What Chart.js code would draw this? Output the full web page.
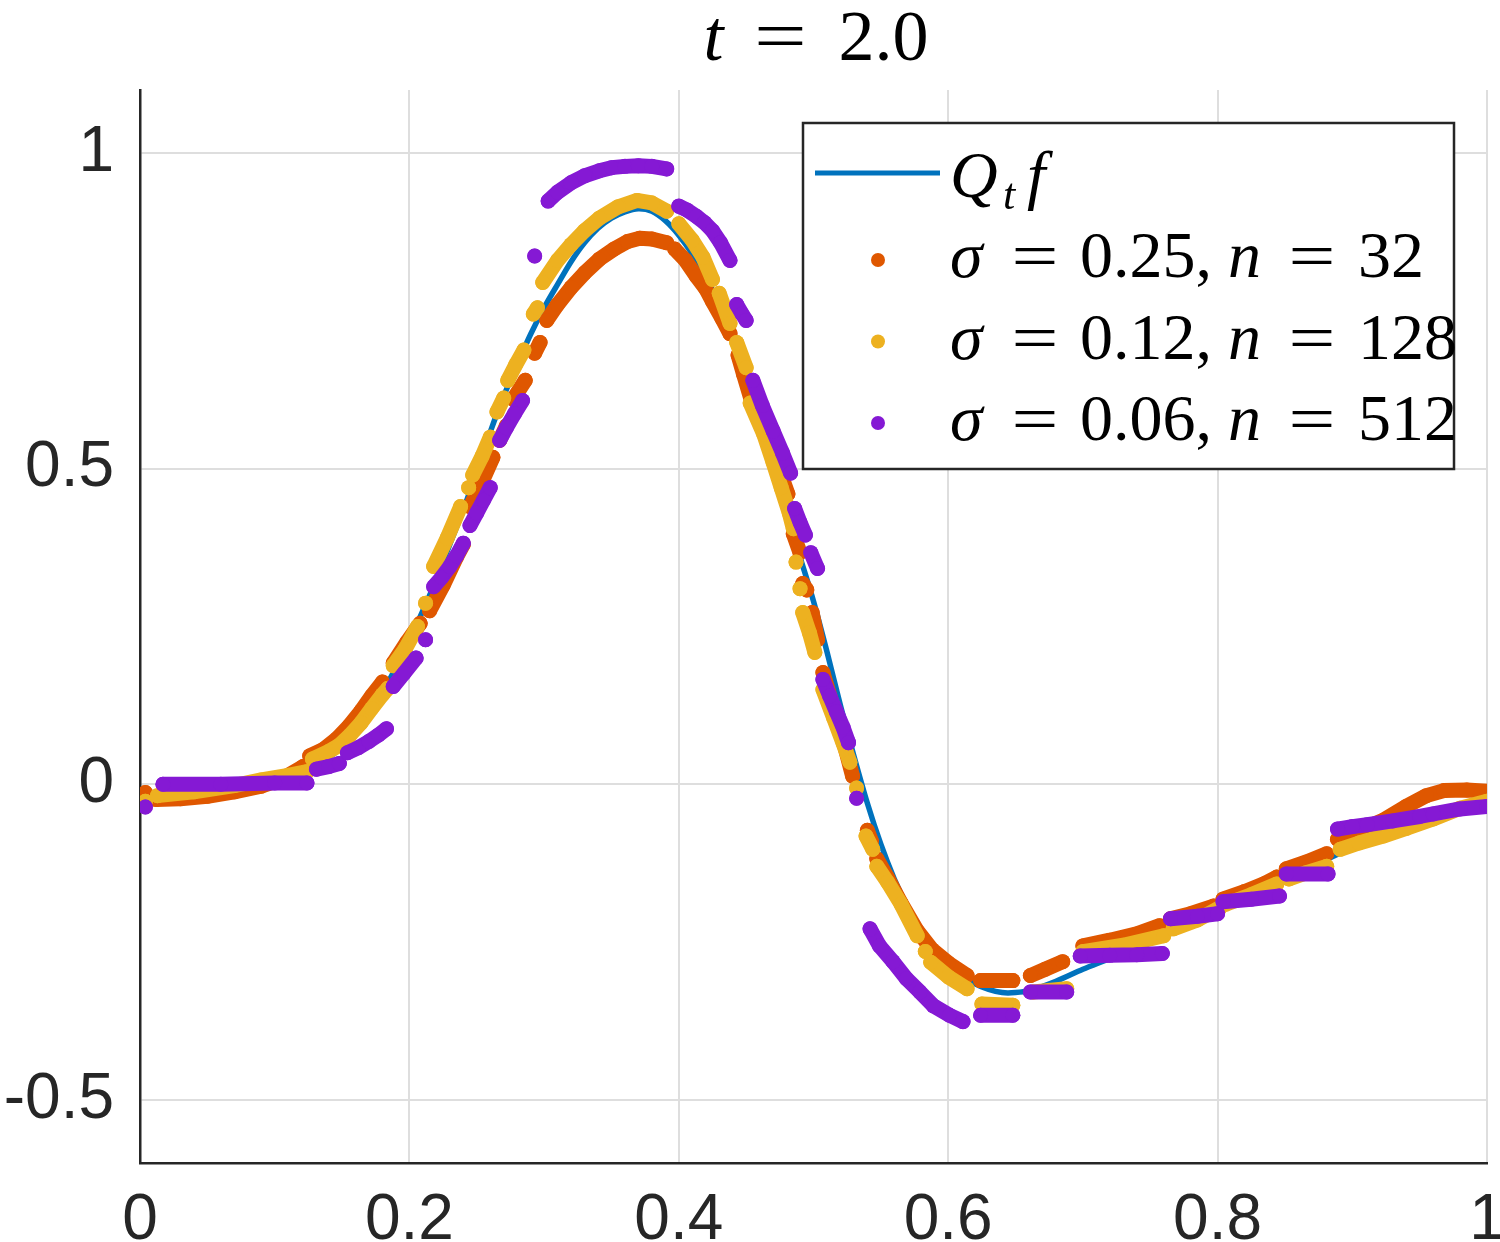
<!DOCTYPE html>
<html>
<head>
<meta charset="utf-8">
<script src="https://cdn.jsdelivr.net/npm/chart.js@4.4.1/dist/chart.umd.min.js"></script>
<style>
  html, body { margin: 0; padding: 0; background: #fff; }
</style>
</head>
<body>
<canvas id="chart" width="1500" height="1242"></canvas>
<script>
'use strict'

let xTicks = [0, 0.2, 0.4, 0.6, 0.8, 1],
    xTickLabels = ['0', '0.2', '0.4', '0.6', '0.8', '1'],
    yTicks = [-0.5, 0, 0.5, 1],
    yTickLabels = ['-0.5', '0', '0.5', '1']

// Q_t f, the smooth curve
let qtfX = [0, 0.02, 0.04, 0.06, 0.08, 0.1, 0.12, 0.14, 0.15, 0.16, 0.17, 0.18, 0.19, 0.2, 0.21, 0.22, 0.23, 0.24,
    0.25, 0.26, 0.27, 0.28, 0.29, 0.3, 0.31, 0.32, 0.33, 0.34, 0.35, 0.36, 0.37, 0.38, 0.39, 0.4, 0.41, 0.42, 0.43,
    0.44, 0.45, 0.46, 0.47, 0.48, 0.49, 0.5, 0.51, 0.52, 0.53, 0.54, 0.55, 0.56, 0.57, 0.58, 0.59, 0.6, 0.61, 0.62,
    0.63, 0.64, 0.65, 0.66, 0.68, 0.7, 0.72, 0.74, 0.76, 0.78, 0.8, 0.82, 0.84, 0.86, 0.88, 0.9, 0.92, 0.94, 0.96,
    0.98, 1]
let qtfY = [-0.02, -0.019, -0.016, -0.012, -0.006, 0.003, 0.018, 0.042, 0.06, 0.085, 0.112, 0.145, 0.185, 0.228,
    0.275, 0.325, 0.38, 0.435, 0.495, 0.558, 0.615, 0.665, 0.713, 0.755, 0.792, 0.828, 0.858, 0.881, 0.897, 0.907,
    0.912, 0.908, 0.893, 0.87, 0.84, 0.803, 0.762, 0.715, 0.655, 0.585, 0.505, 0.43, 0.36, 0.29, 0.21, 0.125, 0.045,
    -0.03, -0.095, -0.15, -0.195, -0.232, -0.26, -0.283, -0.302, -0.316, -0.325, -0.33, -0.33, -0.327, -0.312,
    -0.293, -0.276, -0.258, -0.24, -0.221, -0.202, -0.18, -0.16, -0.139, -0.12, -0.1, -0.085, -0.068, -0.054,
    -0.043, -0.036]

// sigma = 0.25, n = 32  (null = break between runs of dots)
let s25X = [0.004, null,
    0.012, 0.03, 0.05, 0.07, 0.09, 0.105, 0.121, null,
    0.126, 0.136, 0.146, 0.155, 0.164, 0.172, 0.18, null,
    0.188, 0.198, 0.208, null,
    0.215, 0.225, 0.235, 0.24, null,
    0.245, 0.252, 0.262, null,
    0.267, 0.272, null,
    0.277, 0.286, null,
    0.293, 0.297, null,
    0.302, 0.31, 0.32, 0.33, 0.341, 0.352, 0.362, 0.371, 0.38, 0.391, null,
    0.397, 0.405, 0.413, 0.42, 0.425, 0.432, 0.438, null,
    0.444, 0.448, 0.455, 0.463, 0.47, 0.476, 0.481, null,
    0.485, 0.49, null,
    0.492, 0.495, null,
    0.499, 0.503, null,
    0.507, 0.515, 0.522, 0.529, null,
    0.54, 0.543, null,
    0.547, 0.555, 0.565, 0.577, 0.588, 0.6, 0.614, null,
    0.624, 0.648, null,
    0.661, 0.672, 0.685, null,
    0.7, 0.72, 0.74, 0.757, null,
    0.765, 0.78, 0.797, null,
    0.804, 0.82, 0.835, 0.844, null,
    0.851, 0.866, 0.881, null,
    0.889, 0.905, 0.923, 0.94, 0.955, 0.968, 0.985, 1]
let s25Y = [-0.013, null,
    -0.024, -0.023, -0.019, -0.012, -0.003, 0.008, 0.028, null,
    0.045, 0.055, 0.072, 0.092, 0.116, 0.14, 0.162, null,
    0.192, 0.225, 0.255, null,
    0.275, 0.315, 0.36, 0.38, null,
    0.44, 0.47, 0.518, null,
    0.545, 0.568, null,
    0.61, 0.64, null,
    0.683, 0.7, null,
    0.735, 0.76, 0.787, 0.81, 0.832, 0.848, 0.86, 0.865, 0.864, 0.858, null,
    0.848, 0.83, 0.805, 0.785, 0.765, 0.738, 0.714, null,
    0.68, 0.65, 0.6, 0.56, 0.52, 0.49, 0.46, null,
    0.397, 0.367, null,
    0.318, 0.308, null,
    0.272, 0.229, null,
    0.177, 0.12, 0.07, 0.013, null,
    -0.073, -0.09, null,
    -0.118, -0.148, -0.188, -0.232, -0.262, -0.283, -0.303, null,
    -0.311, -0.311, null,
    -0.303, -0.293, -0.281, null,
    -0.256, -0.247, -0.237, -0.224, null,
    -0.213, -0.205, -0.193, null,
    -0.182, -0.17, -0.157, -0.147, null,
    -0.134, -0.123, -0.11, null,
    -0.087, -0.073, -0.057, -0.035, -0.018, -0.01, -0.009, -0.011]

// sigma = 0.12, n = 128
let s12X = [0.004, null,
    0.013, 0.04, 0.07, 0.09, 0.11, 0.124, null,
    0.128, 0.14, 0.148, 0.156, 0.164, 0.172, 0.18, 0.184, null,
    0.188, 0.197, 0.206, null,
    0.212, null,
    0.218, 0.228, 0.238, null,
    0.244, null,
    0.247, 0.254, 0.26, null,
    0.265, 0.27, null,
    0.273, 0.279, 0.285, null,
    0.292, 0.295, null,
    0.299, 0.31, 0.32, 0.33, 0.341, 0.355, 0.369, 0.38, 0.391, null,
    0.4, 0.41, 0.418, 0.425, null,
    0.43, 0.438, null,
    0.443, 0.45, null,
    0.453, 0.463, 0.47, 0.476, 0.482, 0.485, null,
    0.487, null,
    0.49, null,
    0.492, 0.497, 0.501, null,
    0.507, 0.515, 0.522, 0.527, null,
    0.532, null,
    0.539, 0.544, null,
    0.547, 0.555, 0.565, 0.577, null,
    0.583, null,
    0.587, 0.6, 0.614, null,
    0.625, 0.648, null,
    0.663, 0.688, null,
    0.7, 0.73, 0.76, null,
    0.767, 0.785, 0.802, null,
    0.806, 0.825, 0.844, null,
    0.853, 0.866, 0.881, null,
    0.891, 0.905, 0.923, 0.94, 0.96, 0.98, 1]
let s12Y = [-0.027, null,
    -0.018, -0.012, -0.002, 0.007, 0.014, 0.02, null,
    0.04, 0.052, 0.062, 0.078, 0.097, 0.12, 0.142, 0.152, null,
    0.188, 0.215, 0.25, null,
    0.287, null,
    0.345, 0.39, 0.44, null,
    0.47, null,
    0.49, 0.52, 0.55, null,
    0.59, 0.612, null,
    0.64, 0.665, 0.688, null,
    0.745, 0.755, null,
    0.795, 0.83, 0.855, 0.877, 0.897, 0.915, 0.925, 0.921, 0.908, null,
    0.888, 0.862, 0.835, 0.8, null,
    0.778, 0.73, null,
    0.7, 0.66, null,
    0.604, 0.555, 0.51, 0.47, 0.43, 0.405, null,
    0.352, null,
    0.31, null,
    0.272, 0.24, 0.209, null,
    0.15, 0.105, 0.065, 0.035, null,
    -0.006, null,
    -0.082, -0.103, null,
    -0.13, -0.155, -0.19, -0.24, null,
    -0.265, null,
    -0.282, -0.305, -0.324, null,
    -0.348, -0.35, null,
    -0.329, -0.324, null,
    -0.265, -0.255, -0.24, null,
    -0.229, -0.215, -0.195, null,
    -0.19, -0.175, -0.158, null,
    -0.15, -0.14, -0.13, null,
    -0.103, -0.093, -0.082, -0.07, -0.055, -0.038, -0.027]

// sigma = 0.06, n = 512
let s06X = [0.004, null,
    0.017, 0.06, 0.1, 0.124, null,
    0.131, 0.14, 0.148, null,
    0.154, 0.162, 0.17, 0.177, 0.183, null,
    0.188, 0.196, 0.205, null,
    0.212, null,
    0.218, 0.224, 0.23, 0.235, 0.24, null,
    0.245, 0.25, 0.255, 0.26, null,
    0.267, 0.272, 0.278, 0.284, null,
    0.293, null,
    0.303, 0.31, 0.32, 0.33, 0.341, 0.35, 0.36, 0.37, 0.38, 0.391, null,
    0.4, 0.406, 0.413, 0.419, 0.425, 0.431, 0.438, null,
    0.443, 0.447, 0.45, null,
    0.455, 0.462, 0.47, 0.477, 0.483, null,
    0.486, 0.49, 0.494, null,
    0.498, 0.503, null,
    0.507, 0.512, 0.517, 0.522, 0.526, null,
    0.532, null,
    0.542, 0.549, 0.559, 0.569, 0.579, 0.589, 0.601, 0.611, null,
    0.624, 0.648, null,
    0.661, 0.688, null,
    0.698, 0.72, 0.74, 0.759, null,
    0.765, 0.785, 0.8, null,
    0.804, 0.825, 0.846, null,
    0.851, 0.882, null,
    0.889, 0.9, 0.911, 0.93, 0.95, 0.96, 0.98, 1]
let s06Y = [-0.036, null,
    0, 0, 0.002, 0.002, null,
    0.024, 0.028, 0.033, null,
    0.05, 0.058, 0.068, 0.078, 0.088, null,
    0.155, 0.176, 0.2, null,
    0.229, null,
    0.313, 0.328, 0.345, 0.362, 0.382, null,
    0.41, 0.43, 0.45, 0.47, null,
    0.545, 0.565, 0.587, 0.608, null,
    0.837, null,
    0.924, 0.938, 0.953, 0.964, 0.972, 0.977, 0.979, 0.98, 0.979, 0.975, null,
    0.916, 0.91, 0.9, 0.89, 0.877, 0.858, 0.83, null,
    0.76, 0.745, 0.735, null,
    0.64, 0.6, 0.56, 0.525, 0.493, null,
    0.437, 0.415, 0.395, null,
    0.367, 0.342, null,
    0.166, 0.14, 0.115, 0.09, 0.066, null,
    -0.022, null,
    -0.229, -0.256, -0.281, -0.308, -0.329, -0.351, -0.366, -0.376, null,
    -0.366, -0.366, null,
    -0.329, -0.329, null,
    -0.272, -0.271, -0.27, -0.268, null,
    -0.213, -0.209, -0.205, null,
    -0.186, -0.182, -0.177, null,
    -0.142, -0.142, null,
    -0.071, -0.067, -0.064, -0.058, -0.051, -0.047, -0.039, -0.035]

let blue = '#0072BD',
    orange = '#DF5700',
    yellow = '#EDB120',
    purple = '#8519D4',
    axisColor = '#262626'

let toPoints = function (xs, ys) {
    return xs.map((x, i) => ({x: x === null ? xs[i - 1] : x, y: ys[i]}))
}

// runs of dense dots: thick round-capped line through the read points, plus a dot at each
let dotRun = function (label, xs, ys, color, order) {
    return {
        label: label,
        data: toPoints(xs, ys),
        borderColor: color,
        backgroundColor: color,
        borderWidth: 15,
        borderCapStyle: 'round',
        borderJoinStyle: 'round',
        pointRadius: 7.5,
        pointBorderWidth: 0,
        pointBackgroundColor: color,
        tension: 0,
        spanGaps: false,
        fill: false,
        order: order
    }
}

let put = function (ctx, text, x, y, size, italic, align) {
    ctx.font = (italic ? 'italic ' : '') + size + 'px "Liberation Serif", "DejaVu Serif", serif'
    ctx.textAlign = align || 'left'
    ctx.textBaseline = 'alphabetic'
    ctx.fillStyle = '#000'
    ctx.fillText(text, x, y)
}

// the math "=" is wider than the text one
let putEq = function (ctx, x, y, size) {
    ctx.save()
    ctx.translate(x, y)
    ctx.scale(1.3, 1)
    put(ctx, '=', 0, 0, size, false, 'center')
    ctx.restore()
}

let legendRows = [
    {color: orange, sigma: '0.25,', n: '32'},
    {color: yellow, sigma: '0.12,', n: '128'},
    {color: purple, sigma: '0.06,', n: '512'}
]

let texts = {
    id: 'texts',
    afterDraw(chart) {
        let ctx = chart.ctx, a = chart.chartArea
        ctx.save()

        // title  t = 2.0
        let cx = (a.left + a.right) / 2
        put(ctx, 't', cx - 110, 60, 72, true)
        putEq(ctx, cx - 33, 60, 72)
        put(ctx, '2.0', cx + 25, 60, 72, false)

        // legend box
        let L = a.right - 684, T = a.top + 33
        ctx.fillStyle = '#fff'
        ctx.fillRect(L, T, 651, 346)
        ctx.strokeStyle = axisColor
        ctx.lineWidth = 2.5
        ctx.strokeRect(L, T, 651, 346)

        ctx.strokeStyle = blue
        ctx.lineWidth = 5
        ctx.beginPath()
        ctx.moveTo(L + 12, T + 50)
        ctx.lineTo(L + 137, T + 50)
        ctx.stroke()
        put(ctx, 'Q', L + 147, T + 74, 66, true)
        put(ctx, 't', L + 200, T + 86, 44, true)
        put(ctx, 'f', L + 224, T + 74, 66, true)

        legendRows.forEach((r, i) => {
            let dotY = T + 137 + i * 81.5, base = dotY + 17
            ctx.fillStyle = r.color
            ctx.beginPath()
            ctx.arc(L + 75, dotY, 7, 0, Math.PI * 2)
            ctx.fill()
            put(ctx, '\u03C3', L + 147, base, 66, true)
            putEq(ctx, L + 232, base, 64)
            put(ctx, r.sigma, L + 277, base, 66, false)
            put(ctx, 'n', L + 425, base, 66, true)
            putEq(ctx, L + 509, base, 64)
            put(ctx, r.n, L + 555, base, 66, false)
        })
        ctx.restore()
    }
}

let tickFont = {family: '"Liberation Sans", Arial, sans-serif', size: 64}

let config = {
    type: 'line',
    data: {
        datasets: [
            {
                label: 'Qtf',
                data: toPoints(qtfX, qtfY),
                borderColor: blue,
                backgroundColor: blue,
                borderWidth: 5.5,
                pointRadius: 0,
                tension: 0.3,
                fill: false,
                order: 3
            },
            dotRun('sigma = 0.25, n = 32', s25X, s25Y, orange, 2),
            dotRun('sigma = 0.12, n = 128', s12X, s12Y, yellow, 1),
            dotRun('sigma = 0.06, n = 512', s06X, s06Y, purple, 0)
        ]
    },
    options: {
        responsive: false,
        animation: false,
        events: [],
        layout: {padding: {top: 90, right: 13, left: 0, bottom: 0}},
        plugins: {
            legend: {display: false},
            tooltip: {enabled: false},
            title: {display: false}
        },
        scales: {
            x: {
                type: 'linear',
                min: 0,
                max: 1,
                afterBuildTicks: (s) => { s.ticks = xTicks.map(v => ({value: v})) },
                afterFit: (s) => { s.height = 79; s.paddingLeft = 0; s.paddingRight = 0 },
                ticks: {
                    callback: (v, i) => xTickLabels[i],
                    font: tickFont,
                    color: axisColor,
                    padding: 20,
                    maxRotation: 0,
                    autoSkip: false
                },
                grid: {color: '#dedede', lineWidth: 2, drawTicks: false},
                border: {display: true, color: axisColor, width: 2.5}
            },
            y: {
                type: 'linear',
                min: -0.6,
                max: 1.1,
                afterBuildTicks: (s) => { s.ticks = yTicks.map(v => ({value: v})) },
                afterFit: (s) => { s.width = 140; s.paddingTop = 0; s.paddingBottom = 0 },
                ticks: {
                    callback: (v, i) => yTickLabels[i],
                    font: tickFont,
                    color: axisColor,
                    padding: 26,
                    autoSkip: false
                },
                grid: {color: '#dedede', lineWidth: 2, drawTicks: false},
                border: {display: true, color: axisColor, width: 2.5}
            }
        }
    },
    plugins: [texts]
}

let myChart = new Chart(document.getElementById('chart'), config)
</script>
</body>
</html>
